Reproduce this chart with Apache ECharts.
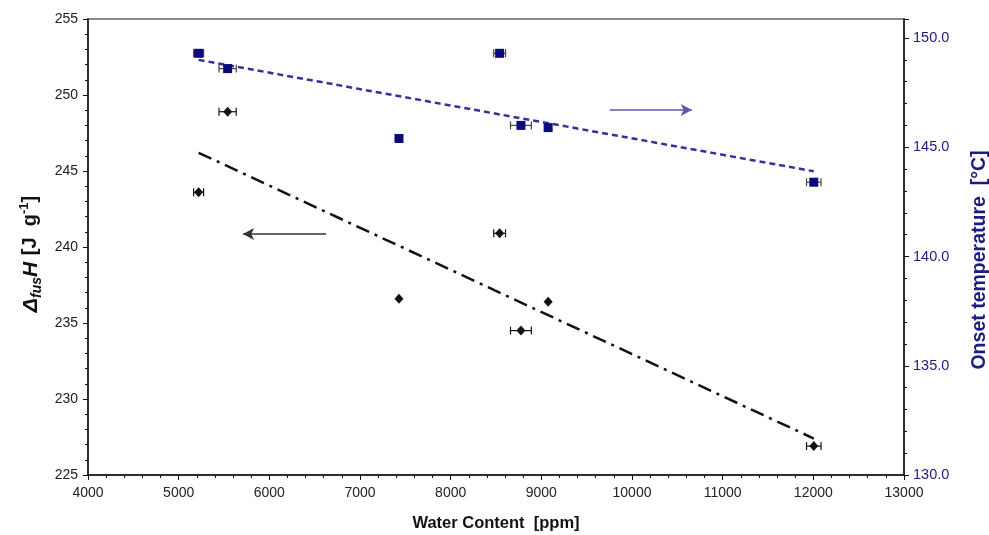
<!DOCTYPE html>
<html>
<head>
<meta charset="utf-8">
<script src="https://cdn.jsdelivr.net/npm/echarts@6/dist/echarts.min.js"></script>
<style>
  html, body { margin: 0; padding: 0; background: #fff; }
  #chart { width: 989px; height: 535px; }
</style>
</head>
<body>
<div id="chart"></div>
<script>
// values
const waterContent = [5220, 5540, 7430, 8540, 8775, 9075, 12005]
const waterErr = [55, 95, 0, 65, 115, 0, 80]
const fusionEnthalpy = [243.6, 248.9, 236.6, 240.9, 234.5, 236.4, 226.9]
const onsetTemp = [149.3, 148.6, 145.4, 149.3, 146.0, 145.9, 143.4]
const trendX = [5220, 12005]
const trendEnthalpy = [246.2, 227.4]
const trendOnset = [149.0, 143.9]
// annotation arrows (start x, end x, level)
const arrowLeft = [6625, 5710, 240.86]
const arrowRight = [9755, 10660, 146.7]

const font = 'Arial, "Liberation Sans", sans-serif'
const navy = '#1c1c80'

const pairs = (xs, ys) => xs.map((x, i) => [x, ys[i]])

function errorBars(ys, color, yAxisIndex) {
  return {
    type: 'custom',
    yAxisIndex: yAxisIndex,
    silent: true,
    z: 3,
    data: waterContent.map((x, i) => [x, ys[i], waterErr[i]]),
    renderItem: (params, api) => {
      const x = api.value(0), y = api.value(1), e = api.value(2)
      if (!e) return null
      const a = api.coord([x - e, y])
      const b = api.coord([x + e, y])
      const style = { stroke: color, lineWidth: 1.2 }
      return {
        type: 'group',
        children: [
          { type: 'line', shape: { x1: a[0], y1: a[1], x2: b[0], y2: b[1] }, style },
          { type: 'line', shape: { x1: a[0], y1: a[1] - 4, x2: a[0], y2: a[1] + 4 }, style },
          { type: 'line', shape: { x1: b[0], y1: b[1] - 4, x2: b[0], y2: b[1] + 4 }, style }
        ]
      }
    }
  }
}

const titleBase = { fontFamily: font, fontWeight: 'bold', color: '#111', lineHeight: 26 }

const chart = echarts.init(document.getElementById('chart'))

const option = {
  animation: false,
  backgroundColor: '#fff',
  grid: {
    left: 88, right: 85, top: 19, bottom: 60,
    outerBoundsMode: 'none',
    containLabel: false,
    show: true, borderColor: '#8a8a8a', borderWidth: 2
  },
  xAxis: {
    type: 'value',
    min: 4000, max: 13000, interval: 1000,
    name: 'Water Content  [ppm]',
    nameLocation: 'middle',
    nameGap: 40,
    nameTextStyle: { fontFamily: font, fontWeight: 'bold', fontSize: 16.5, color: '#111' },
    axisLine: { show: true, onZero: false, lineStyle: { color: '#111', width: 1.5 } },
    axisTick: { show: true, length: 5, lineStyle: { color: '#111' } },
    minorTick: { show: true, splitNumber: 5, length: 3, lineStyle: { color: '#111' } },
    axisLabel: { fontFamily: font, fontSize: 14, color: '#222', margin: 11, formatter: v => String(v) },
    splitLine: { show: false }
  },
  yAxis: [
    {
      type: 'value',
      min: 225, max: 255, interval: 5,
      name: '{d|Δ}{s|fus}{h|H}  {b|[J  g}{p|-1}{b|]}',
      nameLocation: 'middle',
      nameGap: 26,
      nameRotate: 90,
      nameTextStyle: {
        fontFamily: font, color: '#111',
        padding: [0, 14, 0, 0],
        rich: {
          d: Object.assign({}, titleBase, { fontSize: 21, fontStyle: 'italic', verticalAlign: 'middle' }),
          s: Object.assign({}, titleBase, { fontSize: 14, fontStyle: 'italic', verticalAlign: 'bottom', padding: [8, 0, 0, 0] }),
          h: Object.assign({}, titleBase, { fontSize: 21, fontStyle: 'italic', verticalAlign: 'middle' }),
          b: Object.assign({}, titleBase, { fontSize: 20, verticalAlign: 'middle' }),
          p: Object.assign({}, titleBase, { fontSize: 13, verticalAlign: 'top', padding: [0, 0, 6, 0] })
        }
      },
      axisLine: { show: true, onZero: false, lineStyle: { color: '#111', width: 1.5 } },
      axisTick: { show: true, length: 5, lineStyle: { color: '#111' } },
      minorTick: { show: true, splitNumber: 5, length: 3, lineStyle: { color: '#111' } },
      axisLabel: { fontFamily: font, fontSize: 14, color: '#222', margin: 10 },
      splitLine: { show: false }
    },
    {
      type: 'value',
      position: 'right',
      min: 130, max: 150.87, interval: 5,
      name: 'Onset temperature  [°C]',
      nameLocation: 'middle',
      nameGap: 66,
      nameRotate: 90,
      nameTextStyle: { fontFamily: font, fontWeight: 'bold', fontSize: 19.5, color: navy, padding: [0, 26, 0, 0] },
      axisLine: { show: true, onZero: false, lineStyle: { color: '#111', width: 1.5 } },
      axisTick: { show: true, length: 5, lineStyle: { color: '#111' } },
      minorTick: { show: true, splitNumber: 5, length: 3, lineStyle: { color: '#111' } },
      axisLabel: {
        fontFamily: font, fontSize: 14.5, color: navy, margin: 9,
        showMaxLabel: false,
        formatter: v => v.toFixed(1)
      },
      splitLine: { show: false }
    }
  ],
  series: [
    {
      type: 'line',
      yAxisIndex: 0,
      data: pairs(trendX, trendEnthalpy),
      symbol: 'none',
      lineStyle: { color: '#111', width: 2.5, type: [14, 6, 3, 6] },
      z: 1,
      markLine: {
        silent: true,
        symbol: ['none', 'arrow'],
        symbolSize: [9, 11],
        label: { show: false },
        lineStyle: { color: '#333', width: 1.5, type: 'solid' },
        data: [[{ coord: [arrowLeft[0], arrowLeft[2]] }, { coord: [arrowLeft[1], arrowLeft[2]] }]]
      }
    },
    {
      type: 'line',
      yAxisIndex: 1,
      data: pairs(trendX, trendOnset),
      symbol: 'none',
      lineStyle: { color: '#32329a', width: 2.5, type: [6, 4] },
      z: 1,
      markLine: {
        silent: true,
        symbol: ['none', 'arrow'],
        symbolSize: [9, 11],
        label: { show: false },
        lineStyle: { color: '#5a5aa8', width: 1.5, type: 'solid' },
        data: [[{ coord: [arrowRight[0], arrowRight[2]] }, { coord: [arrowRight[1], arrowRight[2]] }]]
      }
    },
    errorBars(fusionEnthalpy, '#111', 0),
    errorBars(onsetTemp, '#444', 1),
    {
      type: 'scatter',
      yAxisIndex: 0,
      data: pairs(waterContent, fusionEnthalpy),
      symbol: 'diamond',
      symbolSize: [9, 10],
      itemStyle: { color: '#111', opacity: 1 },
      z: 4
    },
    {
      type: 'scatter',
      yAxisIndex: 1,
      data: pairs(waterContent, onsetTemp),
      symbol: 'rect',
      symbolSize: 9,
      itemStyle: { color: '#0a0a7a', opacity: 1 },
      z: 4
    }
  ]
}

chart.setOption(option)
</script>
</body>
</html>
